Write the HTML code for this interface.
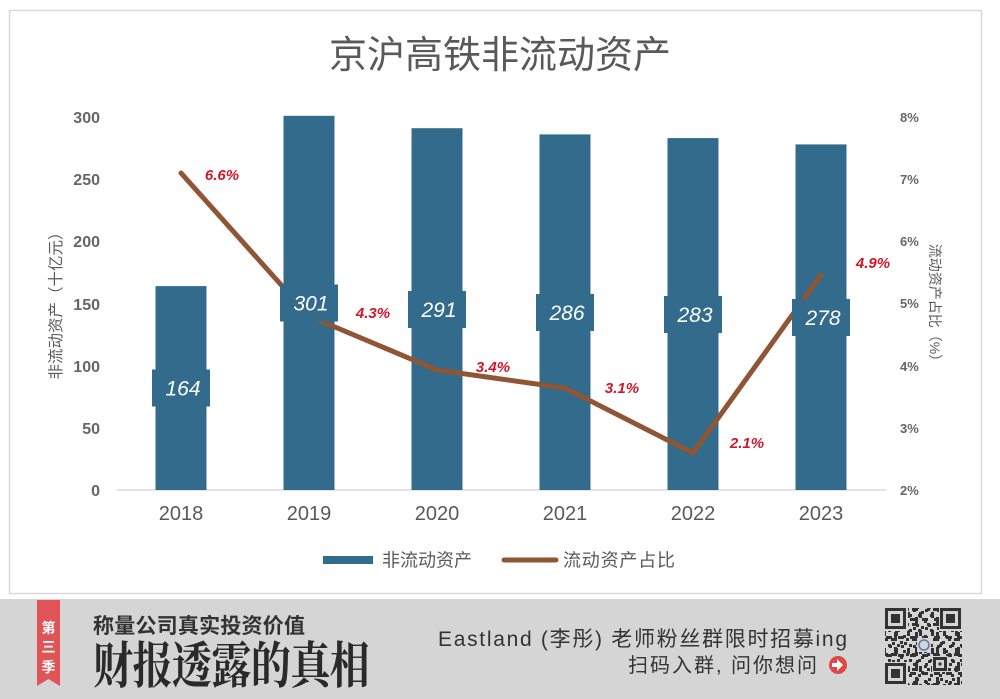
<!DOCTYPE html>
<html><head><meta charset="utf-8">
<style>
html,body{margin:0;padding:0;background:#fff;}
svg{display:block;}
text{font-family:"Liberation Sans","Noto Sans CJK SC",sans-serif;}
</style></head>
<body>
<svg width="1000" height="699" viewBox="0 0 1000 699" xmlns="http://www.w3.org/2000/svg">
<defs>
<pattern id="qa" x="885" y="608" width="21" height="15" patternUnits="userSpaceOnUse">
<rect x="0" y="0" width="3" height="3" fill="#333"/><rect x="6" y="0" width="6" height="3" fill="#333"/>
<rect x="15" y="3" width="3" height="3" fill="#333"/><rect x="3" y="6" width="3" height="3" fill="#333"/>
<rect x="9" y="9" width="3" height="6" fill="#333"/><rect x="18" y="12" width="3" height="3" fill="#333"/>
<rect x="12" y="6" width="3" height="3" fill="#333"/>
</pattern>
<pattern id="qb" x="886" y="609" width="12" height="18" patternUnits="userSpaceOnUse">
<rect x="3" y="0" width="3" height="3" fill="#333"/><rect x="9" y="3" width="3" height="6" fill="#333"/>
<rect x="0" y="9" width="6" height="3" fill="#333"/><rect x="6" y="15" width="3" height="3" fill="#333"/>
</pattern>
</defs>

<!-- chart frame -->
<rect x="9.5" y="10.5" width="972" height="583" fill="#fff" stroke="#d9d9d9" stroke-width="1.5"/>

<!-- title -->
<text x="500" y="68" font-size="38" fill="#595959" text-anchor="middle">京沪高铁非流动资产</text>

<!-- left ticks -->
<g font-size="16" fill="#666" font-weight="bold" text-anchor="end">
<text x="100" y="123">300</text>
<text x="100" y="185">250</text>
<text x="100" y="247">200</text>
<text x="100" y="310">150</text>
<text x="100" y="372">100</text>
<text x="100" y="434">50</text>
<text x="100" y="496">0</text>
</g>
<!-- right ticks -->
<g font-size="13" fill="#666" font-weight="bold">
<text x="900" y="122">8%</text>
<text x="900" y="184">7%</text>
<text x="900" y="246">6%</text>
<text x="900" y="308">5%</text>
<text x="900" y="371">4%</text>
<text x="900" y="433">3%</text>
<text x="900" y="495">2%</text>
</g>
<!-- axis titles -->
<text transform="translate(61,302) rotate(-90)" font-size="15.5" fill="#595959" text-anchor="middle">非流动资产（十亿元）</text>
<text transform="translate(930,306) rotate(90)" font-size="14" fill="#595959" text-anchor="middle">流动资产占比（%）</text>

<!-- baseline -->
<line x1="117" y1="490" x2="886" y2="490" stroke="#d9d9d9" stroke-width="1.5"/>

<!-- bars -->
<g fill="#336b8c">
<rect x="155.5" y="286.1" width="51" height="203.9"/>
<rect x="283.5" y="115.8" width="51" height="374.2"/>
<rect x="411.5" y="128.2" width="51" height="361.8"/>
<rect x="539.5" y="134.4" width="51" height="355.6"/>
<rect x="667.5" y="138.1" width="51" height="351.9"/>
<rect x="795.5" y="144.4" width="51" height="345.6"/>
</g>

<!-- line -->
<polyline points="181,173 309,316 437,370 565,388 693,453 821,275" fill="none" stroke="#8f5535" stroke-width="5" stroke-linejoin="miter" stroke-linecap="round"/>

<!-- bar label boxes -->
<g fill="#336b8c">
<rect x="152" y="369.5" width="58" height="37"/>
<rect x="280" y="284.5" width="58" height="37"/>
<rect x="408" y="291" width="58" height="37"/>
<rect x="536" y="294" width="58" height="37"/>
<rect x="664" y="296" width="58" height="37"/>
<rect x="792" y="299" width="58" height="37"/>
</g>
<g font-size="21" fill="#fff" font-style="italic" text-anchor="middle">
<text x="183" y="395.5">164</text>
<text x="311" y="310.5">301</text>
<text x="439" y="317">291</text>
<text x="567" y="320">286</text>
<text x="695" y="322">283</text>
<text x="823" y="325">278</text>
</g>

<!-- percent labels -->
<g font-size="15" fill="#d0182a" font-style="italic" font-weight="bold" text-anchor="middle">
<text x="222" y="180">6.6%</text>
<text x="373" y="318">4.3%</text>
<text x="493" y="372">3.4%</text>
<text x="622" y="393">3.1%</text>
<text x="747" y="448">2.1%</text>
<text x="873" y="268">4.9%</text>
</g>

<!-- x labels -->
<g font-size="20" fill="#595959" text-anchor="middle">
<text x="181" y="520">2018</text>
<text x="309" y="520">2019</text>
<text x="437" y="520">2020</text>
<text x="565" y="520">2021</text>
<text x="693" y="520">2022</text>
<text x="821" y="520">2023</text>
</g>

<!-- legend -->
<rect x="323" y="556" width="50" height="8" fill="#336b8c"/>
<text x="382" y="566.5" font-size="18" fill="#595959">非流动资产</text>
<line x1="504" y1="560" x2="556" y2="560" stroke="#8f5535" stroke-width="5" stroke-linecap="round"/>
<text x="563" y="566.5" font-size="18" fill="#595959" textLength="112" lengthAdjust="spacing">流动资产占比</text>

<!-- banner -->
<rect x="0" y="599" width="1000" height="100" fill="#d5d5d5"/>
<polygon points="37,600 60,600 60,686 48.5,679 37,686" fill="#e05356"/>
<g font-size="14" fill="#fff" text-anchor="middle" font-weight="bold">
<text x="48.5" y="633">第</text>
<text x="48.5" y="652">三</text>
<text x="48.5" y="672">季</text>
</g>
<text x="93" y="633" font-size="21" fill="#333" font-weight="bold" textLength="212" lengthAdjust="spacing">称量公司真实投资价值</text>
<text transform="translate(93,683) scale(0.8,1)" font-size="50" fill="#2a2a2a" font-weight="bold" style="font-family:'Noto Serif CJK SC','Liberation Serif',serif" textLength="346" lengthAdjust="spacing">财报透露的真相</text>
<text x="438" y="646" font-size="21" fill="#333" textLength="409" lengthAdjust="spacing">Eastland (李彤) 老师粉丝群限时招募ing</text>
<text x="628" y="672" font-size="20" fill="#333" textLength="189" lengthAdjust="spacing">扫码入群, 问你想问</text>
<circle cx="838" cy="665" r="9" fill="#e04848"/>
<path d="M832,663 h5 v-4 l6,6 l-6,6 v-4 h-5 z" fill="#fff"/>

<!-- QR -->
<g>
<rect x="885" y="608" width="77" height="77" fill="url(#qa)"/>
<rect x="885" y="608" width="77" height="77" fill="url(#qb)"/>
<rect x="884" y="607" width="24" height="24" fill="#d5d5d5"/>
<rect x="939" y="607" width="24" height="24" fill="#d5d5d5"/>
<rect x="884" y="662" width="24" height="24" fill="#d5d5d5"/>
<rect x="932" y="656" width="16" height="16" fill="#d5d5d5"/>
<rect x="917" y="638" width="14" height="14" fill="#d5d5d5"/>
<g fill="none" stroke="#333" stroke-width="3">
<rect x="886.5" y="609.5" width="18" height="18"/>
<rect x="941.5" y="609.5" width="18" height="18"/>
<rect x="886.5" y="664.5" width="18" height="18"/>
<rect x="934.5" y="658.5" width="11" height="11"/>
</g>
<g fill="#333">
<rect x="891" y="614" width="9" height="9"/>
<rect x="946" y="614" width="9" height="9"/>
<rect x="891" y="669" width="9" height="9"/>
<rect x="938.5" y="662.5" width="3" height="3"/>
</g>
<circle cx="924" cy="645" r="5" fill="none" stroke="#5a7bb0" stroke-width="1.5"/>
</g>
</svg>
</body></html>
